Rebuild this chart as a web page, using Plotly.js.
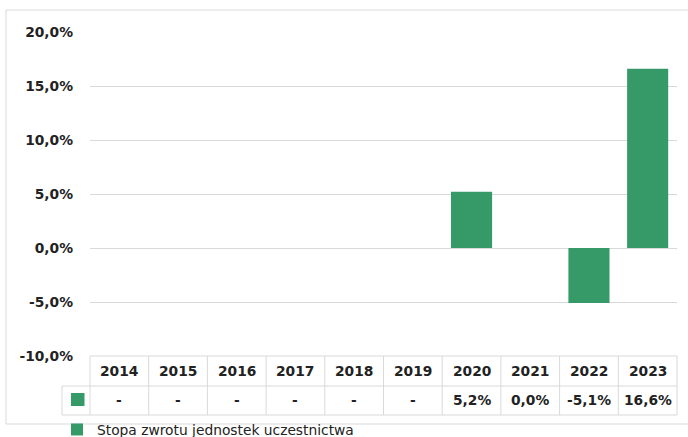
<!DOCTYPE html>
<html>
<head>
<meta charset="utf-8">
<script src="https://cdn.plot.ly/plotly-3.0.1.min.js"></script>
<style>html,body{margin:0;padding:0;background:#fff;}#chart{width:688px;height:437px;}</style>
</head>
<body>
<div id="chart"></div>
<script>
const years = ['2014','2015','2016','2017','2018','2019','2020','2021','2022','2023'];
const returns = [null, null, null, null, null, null, 5.2, 0.0, -5.1, 16.6];
const seriesName = 'Stopa zwrotu jednostek uczestnictwa';
const yTicks = [-10, -5, 0, 5, 10, 15, 20];

const W = 688, H = 437;
const M = {l: 90, r: 11, t: 32, b: 81, autoexpand: false};
const PW = W - M.l - M.r, PH = H - M.t - M.b;
const px = v => (v - M.l) / PW;
const py = v => (H - M.b - v) / PH;

const green = '#359a68';
const grid = '#d9d9d9';
const txt = '#222222';
const fontB = {family: 'DejaVu Sans', size: 13.8, color: txt, weight: 'bold'};

const fmt = v => v == null ? '-' : v.toFixed(1).replace('.', ',') + '%';

const n = years.length;
const colW = 1 / n;
const rowTop = 356, rowMid = 386, rowBot = 415, keyLeft = 62;

const shapes = [];
const line = (x0, y0, x1, y1) => shapes.push({type: 'line', xref: 'paper', yref: 'paper',
  x0: x0, y0: y0, x1: x1, y1: y1, line: {color: grid, width: 1}, layer: 'below'});
// outer border
shapes.push({type: 'rect', xref: 'paper', yref: 'paper', x0: px(6), y0: py(424), x1: px(720), y1: py(10),
  line: {color: grid, width: 1}, layer: 'below'});
// table horizontal lines
line(0, py(rowTop), 1, py(rowTop));
line(px(keyLeft), py(rowMid), 1, py(rowMid));
line(px(keyLeft), py(rowBot), 1, py(rowBot));
// table vertical lines
for (let i = 0; i <= n; i++) line(i * colW, py(rowTop), i * colW, py(rowBot));
line(px(keyLeft), py(rowMid), px(keyLeft), py(rowBot));
// legend key in table
shapes.push({type: 'rect', xref: 'paper', yref: 'paper', x0: px(71), x1: px(84.5), y0: py(406), y1: py(393),
  fillcolor: green, line: {width: 0}});

const annotations = [];
years.forEach((y, i) => {
  annotations.push({xref: 'x', yref: 'paper', x: i, y: py(371), text: y, showarrow: false,
    font: fontB, xanchor: 'center', yanchor: 'middle'});
  annotations.push({xref: 'x', yref: 'paper', x: i, y: py(400), text: fmt(returns[i]), showarrow: false,
    font: fontB, xanchor: 'center', yanchor: 'middle'});
});

const data = [{
  type: 'bar',
  x: years.map((_, i) => i),
  y: returns,
  name: seriesName,
  marker: {color: green, line: {width: 0}},
  hoverinfo: 'skip'
}];

const layout = {
  width: W, height: H,
  margin: M,
  paper_bgcolor: '#fff', plot_bgcolor: '#fff',
  separators: ',.',
  bargap: 0.3,
  showlegend: true,
  legend: {orientation: 'h', x: px(57), y: py(414), xanchor: 'left', yanchor: 'top',
    font: {family: 'DejaVu Sans', size: 13.8, color: txt}, bgcolor: 'rgba(0,0,0,0)', itemwidth: 30},
  xaxis: {range: [-0.5, n - 0.5], showticklabels: false, showgrid: false, zeroline: false, showline: false, fixedrange: true},
  yaxis: {range: [-10, 20], tickmode: 'array', tickvals: yTicks, ticktext: yTicks.map(fmt),
    showgrid: true, gridcolor: grid, gridwidth: 1, zeroline: false, showline: false, ticks: '',
    ticklabelstandoff: 16, tickfont: fontB, fixedrange: true},
  shapes: shapes,
  annotations: annotations
};

Plotly.newPlot('chart', data, layout, {displayModeBar: false, staticPlot: true});
</script>
</body>
</html>
